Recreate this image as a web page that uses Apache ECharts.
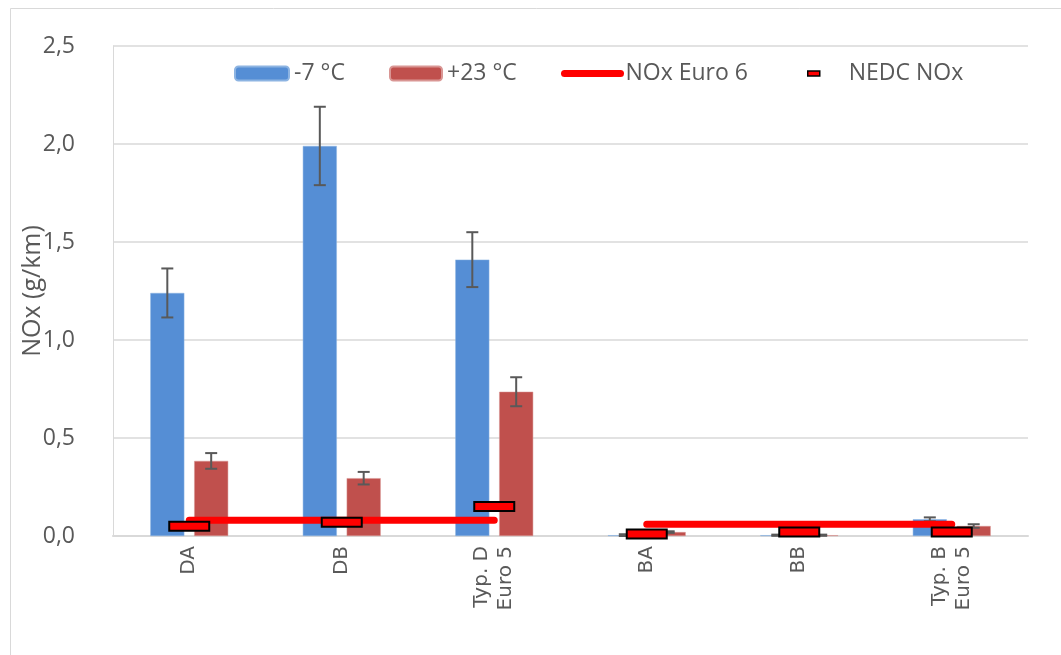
<!DOCTYPE html>
<html>
<head>
<meta charset="utf-8">
<script src="https://cdn.jsdelivr.net/npm/echarts@6/dist/echarts.min.js"></script>
<style>
  html, body { margin: 0; padding: 0; background: #ffffff; }
  #chart { width: 1061px; height: 655px; }
</style>
</head>
<body>
<div id="chart"></div>
<script>
// Vehicles / reference types on the category axis
const categories = ['DA', 'DB', 'Typ. D\nEuro 5', 'BA', 'BB', 'Typ. B\nEuro 5'];

// Mean NOx emissions (g/km) at -7 °C and +23 °C, with ± error
const coldValues = [1.24, 1.99, 1.41, 0.004, 0.004, 0.085];
const coldErrors = [0.125, 0.20, 0.14, 0.005, 0.003, 0.01];
const warmValues = [0.383, 0.295, 0.736, 0.02, 0.004, 0.051];
const warmErrors = [0.04, 0.032, 0.074, 0.004, 0.003, 0.009];

// Euro 6 NOx limits (diesel group, petrol group)
const euro6Diesel = [0.08, 0.08, 0.08, '-', '-', '-'];
const euro6Petrol = ['-', '-', '-', 0.06, 0.06, 0.06];

// Type-approval (NEDC) NOx values
const nedcNox = [0.05, 0.07, 0.15, 0.01, 0.02, 0.02];

// Value axis range
const yMin = 0;
const yMax = 2.5;
const yStep = 0.5;

const BLUE = '#558ED5';
const RED = '#C0504D';
const LIMIT_RED = '#FF0000';
const TEXT = '#595959';
const GRID = '#D9D9D9';
const FONT = 'Open Sans';

// Bar layout as fractions of the category band
const BAR_WIDTH = 0.223;
const BAR_GAP = 0.29;
const BAR_OFFSET = BAR_WIDTH * (1 + BAR_GAP) / 2;

function errorBars(values, errors, side) {
  return {
    type: 'custom',
    silent: true,
    z: 3,
    encode: { x: 0, y: [1, 2] },
    data: values.map((v, i) => [i, Math.max(0, v - errors[i]), v + errors[i]]),
    renderItem(params, api) {
      const i = api.value(0);
      const band = api.size([1, 0])[0];
      const lo = api.coord([i, api.value(1)]);
      const hi = api.coord([i, api.value(2)]);
      const x = lo[0] + side * band * BAR_OFFSET;
      const cap = 6;
      const style = { stroke: '#595959', lineWidth: 2 };
      return {
        type: 'group',
        children: [
          { type: 'line', shape: { x1: x, y1: hi[1], x2: x, y2: lo[1] }, style },
          { type: 'line', shape: { x1: x - cap, y1: hi[1], x2: x + cap, y2: hi[1] }, style },
          { type: 'line', shape: { x1: x - cap, y1: lo[1], x2: x + cap, y2: lo[1] }, style }
        ]
      };
    }
  };
}

const limitLine = {
  type: 'line',
  name: 'NOx Euro 6',
  showSymbol: false,
  symbol: 'none',
  silent: true,
  z: 4,
  lineStyle: { color: LIMIT_RED, width: 7, cap: 'round' },
  itemStyle: { color: LIMIT_RED }
};

const legendText = { fontFamily: FONT, fontSize: 23, color: TEXT };

function legendItem(name, left, w, h, extra) {
  return Object.assign({
    left: left,
    top: 62,
    padding: 0,
    itemWidth: w,
    itemHeight: h,
    textStyle: legendText,
    data: [name]
  }, extra || {});
}

const chart = echarts.init(document.getElementById('chart'), null, { renderer: 'canvas' });

chart.setOption({
  backgroundColor: '#ffffff',
  animation: false,
  textStyle: { fontFamily: FONT },
  graphic: [{
    type: 'rect',
    silent: true,
    shape: { x: 10.5, y: 8.5, width: 1100, height: 700 },
    style: { fill: null, stroke: GRID, lineWidth: 1 }
  }],
  legend: [
    legendItem('-7 °C', 234, 54, 14),
    legendItem('+23 °C', 389, 52, 14),
    legendItem('NOx Euro 6', 561, 56, 7, {
      lineStyle: { width: 7, cap: 'round', color: LIMIT_RED },
      itemStyle: { color: LIMIT_RED, opacity: 0 }
    }),
    legendItem('NEDC NOx', 807, 12, 5, {
      textStyle: Object.assign({ padding: [0, 0, 0, 24] }, legendText),
      data: [{
        name: 'NEDC NOx',
        icon: 'rect',
        itemStyle: { color: LIMIT_RED, borderColor: '#000000', borderWidth: 1.5 }
      }]
    })
  ],
  grid: {
    left: 113, top: 46, right: 33, bottom: 119,
    containLabel: false,
    outerBoundsMode: 'none'
  },
  xAxis: {
    type: 'category',
    data: categories,
    axisLine: { show: true, lineStyle: { color: GRID, width: 2 } },
    axisTick: { show: false },
    axisLabel: {
      rotate: 90,
      margin: 10,
      interval: 0,
      fontFamily: 'DejaVu Sans',
      fontSize: 20,
      lineHeight: 24,
      color: TEXT
    }
  },
  yAxis: {
    type: 'value',
    min: yMin,
    max: yMax,
    interval: yStep,
    name: 'NOx (g/km)',
    nameLocation: 'middle',
    nameGap: 68,
    nameMoveOverlap: false,
    nameTextStyle: { fontFamily: FONT, fontSize: 25, color: TEXT },
    axisLine: { show: true, lineStyle: { color: GRID, width: 1 } },
    axisTick: { show: false },
    axisLabel: {
      margin: 38,
      fontFamily: FONT,
      fontSize: 23,
      color: TEXT,
      formatter: v => v.toFixed(1).replace('.', ',')
    },
    splitLine: { show: true, lineStyle: { color: GRID, width: 1.5 } }
  },
  series: [
    {
      type: 'bar',
      name: '-7 °C',
      data: coldValues,
      barWidth: (BAR_WIDTH * 100) + '%',
      barGap: (BAR_GAP * 100) + '%',
      itemStyle: { color: BLUE, borderColor: '#8DB4E2', borderWidth: 0.5 },
      z: 2
    },
    {
      type: 'bar',
      name: '+23 °C',
      data: warmValues,
      barWidth: (BAR_WIDTH * 100) + '%',
      barGap: (BAR_GAP * 100) + '%',
      itemStyle: { color: RED, borderColor: '#D99694', borderWidth: 0.5 },
      z: 2
    },
    errorBars(coldValues, coldErrors, -1),
    errorBars(warmValues, warmErrors, 1),
    Object.assign({ data: euro6Diesel }, limitLine),
    Object.assign({ data: euro6Petrol }, limitLine),
    {
      type: 'custom',
      name: 'NEDC NOx',
      z: 5,
      silent: true,
      encode: { x: 0, y: 1 },
      data: nedcNox.map((v, i) => [i, v]),
      itemStyle: { color: LIMIT_RED, borderColor: '#000000', borderWidth: 2 },
      renderItem(params, api) {
        const p = api.coord([api.value(0), api.value(1)]);
        const w = 40, h = 9;
        return {
          type: 'rect',
          shape: { x: p[0] - w / 2, y: p[1] - h / 2, width: w, height: h },
          style: { fill: LIMIT_RED, stroke: '#000000', lineWidth: 2 }
        };
      }
    }
  ]
});
</script>
</body>
</html>
